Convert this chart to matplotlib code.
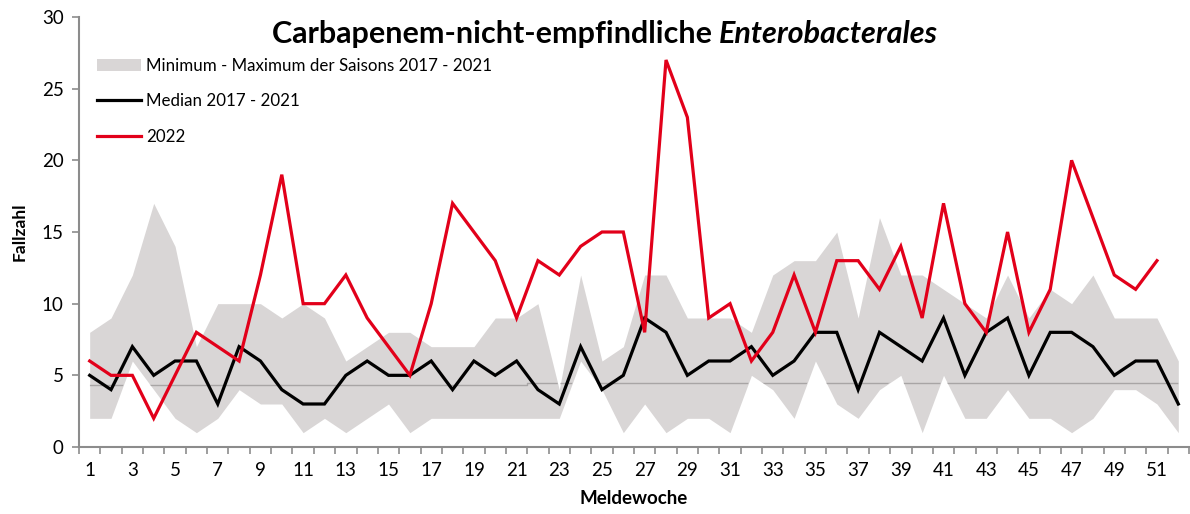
import matplotlib
matplotlib.use("Agg")
import matplotlib.pyplot as plt
from matplotlib.patches import Patch
from matplotlib.lines import Line2D
import numpy as np

weeks = list(range(1, 53))
median_2017_2021 = [5, 4, 7, 5, 6, 6, 3, 7, 6, 4, 3, 3, 5, 6, 5, 5, 6, 4, 6, 5,
                    6, 4, 3, 7, 4, 5, 9, 8, 5, 6, 6, 7, 5, 6, 8, 8, 4, 8, 7, 6,
                    9, 5, 8, 9, 5, 8, 8, 7, 5, 6, 6, 3]
max_2017_2021 = [8, 9, 12, 17, 14, 7, 10, 10, 10, 9, 10, 9, 6, 7, 8, 8, 7, 7, 7, 9,
                 9, 10, 4, 12, 6, 7, 12, 12, 9, 9, 9, 8, 12, 13, 13, 15, 9, 16, 12, 12,
                 11, 10, 9, 12, 9, 11, 10, 12, 9, 9, 9, 6]
min_2017_2021 = [2, 2, 6, 4, 2, 1, 2, 4, 3, 3, 1, 2, 1, 2, 3, 1, 2, 2, 2, 2,
                 2, 2, 2, 6, 4, 1, 3, 1, 2, 2, 1, 5, 4, 2, 6, 3, 2, 4, 5, 1,
                 5, 2, 2, 4, 2, 2, 1, 2, 4, 4, 3, 1]
weeks_2022 = list(range(1, 52))
cases_2022 = [6, 5, 5, 2, 5, 8, 7, 6, 12, 19, 10, 10, 12, 9, 7, 5, 10, 17, 15, 13,
              9, 13, 12, 14, 15, 15, 8, 27, 23, 9, 10, 6, 8, 12, 8, 13, 13, 11, 14, 9,
              17, 10, 8, 15, 8, 11, 20, 16, 12, 11, 13]
# faint reference line visible inside the band
ref_levels = [4.35, 4.5]
ref_break_week = 21.5
xtick_labels = [str(w) for w in range(1, 53, 2)]

RED = "#E2001A"
BAND = "#d9d6d6"
AXC = "#8c8c8c"
FONT = ["Lato", "DejaVu Sans"]
plt.rcParams['font.family'] = FONT

fig = plt.figure(figsize=(11.9, 5.14), dpi=100)
ax = fig.add_axes([79/1190, 1-447/514, 1110/1190, 430/514])

band = ax.fill_between(weeks, min_2017_2021, max_2017_2021, color=BAND, lw=0, zorder=1)
# reference line clipped to band
w = np.array(weeks, dtype=float)
ref_y = np.where(w < ref_break_week, ref_levels[0], ref_levels[1])
ref_line, = ax.step(weeks, ref_y, where='mid', color="#a8a5a5", lw=1.0, zorder=2)
ref_line.set_clip_path(band.get_paths()[0], ax.transData)

ax.plot(weeks, median_2017_2021, color="black", lw=2.3, zorder=3, solid_joinstyle='miter')
ax.plot(weeks_2022, cases_2022, color=RED, lw=2.3, zorder=4, solid_joinstyle='miter')

ax.set_xlim(0.5, 52.5)
ax.set_ylim(0, 30)
ax.set_yticks(range(0, 31, 5))
ax.set_xticks(range(1, 53, 2))
ax.set_xticklabels(xtick_labels)
ax.set_xticks(np.arange(0.5, 53, 1), minor=True)
ax.tick_params(axis='x', which='major', length=0, pad=11, labelsize=13.5)
ax.tick_params(axis='x', which='minor', length=5, width=1.2, color=AXC)
ax.tick_params(axis='y', length=5, width=1.2, color=AXC, labelsize=13.5, pad=6)
for s in ['top', 'right']:
    ax.spines[s].set_visible(False)
for s in ['left', 'bottom']:
    ax.spines[s].set_color(AXC)
    ax.spines[s].set_linewidth(1.5)

ax.set_ylabel("Fallzahl", fontsize=12.5, fontweight='bold', labelpad=10)
ax.set_xlabel("Meldewoche", fontsize=13.5, fontweight='bold', labelpad=8)

handles = [Patch(facecolor=BAND, edgecolor='none'),
           Line2D([], [], color='black', lw=2.3),
           Line2D([], [], color=RED, lw=2.3)]
labels = ["Minimum - Maximum der Saisons 2017 - 2021", "Median 2017 - 2021", "2022"]
ax.legend(handles, labels, loc='upper left', bbox_to_anchor=(0.016, 0.905), frameon=False,
          fontsize=12.2, handlelength=2.6, handleheight=0.75, handletextpad=0.3,
          labelspacing=1.15, borderpad=0, borderaxespad=0)

# Title with mixed style
fig.canvas.draw()
r = fig.canvas.get_renderer()
t1 = fig.text(0, 0, "Carbapenem-nicht-empfindliche ", fontsize=22, fontweight='bold')
t2 = fig.text(0, 0, "Enterobacterales", fontsize=22, fontweight='bold', style='italic')
w1 = t1.get_window_extent(r).width
w2 = t2.get_window_extent(r).width
total = w1 + w2
cx = 605 / 1190
x0 = cx - total / 2 / 1190
yt = 1 - 43 / 514
t1.set_position((x0, yt))
t2.set_position((x0 + w1 / 1190, yt))

fig.savefig("out.png", dpi=100)
